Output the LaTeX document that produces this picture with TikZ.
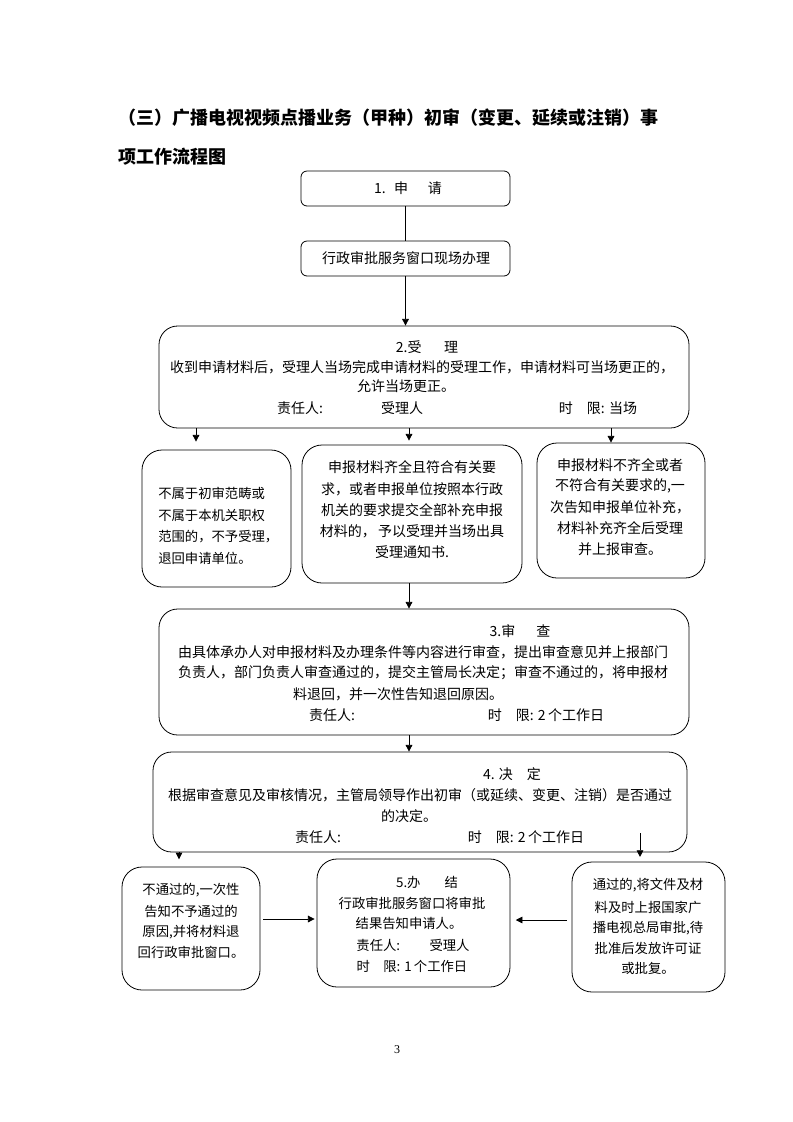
\documentclass[tikz,border=0pt]{standalone}
\usepackage{fontspec}
\setmainfont{Noto Sans CJK SC}
\newfontfamily\serifnum{Liberation Serif}
\usetikzlibrary{arrows.meta,fit}
\begin{document}
\begin{tikzpicture}[x=0.75pt,y=-0.75pt,
  box/.style={draw, line width=0.6pt, inner sep=0pt, rounded corners=#1},
  box/.default=14pt,
  tx/.style={inner sep=0pt, font=\fontsize{10.5pt}{12pt}\selectfont},
  ts/.style={inner sep=0pt, font=\fontsize{10pt}{12pt}\selectfont},
  tsl/.style={inner sep=0pt, anchor=west, font=\fontsize{10pt}{12pt}\selectfont},
  tl/.style={inner sep=0pt, anchor=west, font=\fontsize{13.5pt}{16pt}\selectfont\bfseries},
  ln/.style={line width=0.6pt},
  arr/.style={line width=0.6pt, -{Triangle[length=5pt,width=5pt]}}
]
\fill[white] (0,0) rectangle (793,1122);
\useasboundingbox (0,0) rectangle (793,1122);

% title
\node[tl] (title1) at (118,118) {（三）广播电视视频点播业务（甲种）初审（变更、延续或注销）事};
\node[tl] (title2) at (118,157) {项工作流程图};

% boxes
\node[box=4.5pt, fit={(301,171)(510,206)}] (b1) {};
\node[box=4.5pt, fit={(301,241)(510,276)}] (b2) {};
\node[box=14pt, fit={(159,326)(689,428)}] (b3) {};
\node[box=15pt, fit={(142,450)(291,587)}] (m1) {};
\node[box=15pt, fit={(302,445)(522,583)}] (m2) {};
\node[box=15pt, fit={(537,443)(705,578)}] (m3) {};
\node[box=14pt, fit={(159,609)(689,735)}] (b4) {};
\node[box=14pt, fit={(153,752)(687,852)}] (b5) {};
\node[box=15pt, fit={(122,867)(260,990)}] (l6) {};
\node[box=15pt, fit={(317,859)(510,987)}] (c6) {};
\node[box=15pt, fit={(572,862)(725,992)}] (r6) {};

% texts
\node[tx] (t1) at (408,188) {1.\hspace{0.6em}申\hspace{1.4em}请};
\node[tx] (t2) at (406,258) {行政审批服务窗口现场办理};

\node[tx] (t3a) at (427,347) {2.受\hspace{1.6em}理};
\node[tx] (t3b) at (422,367) {收到申请材料后，受理人当场完成申请材料的受理工作，申请材料可当场更正的，};
\node[tx] (t3c) at (406,386) {允许当场更正。};
\node[tx] (t3d) at (300,408) {责任人:};
\node[tx] (t3e) at (402,408) {受理人};
\node[tx] (t3f) at (598,408) {时\hspace{1em}限: 当场};

\node[tsl] (m1a) at (158,493) {不属于初审范畴或};
\node[tsl] (m1b) at (158,515) {不属于本机关职权};
\node[tsl] (m1c) at (158,537) {范围的，不予受理，};
\node[tsl] (m1d) at (158,558) {退回申请单位。};

\node[tx] (m2a) at (412,467) {申报材料齐全且符合有关要};
\node[tx] (m2b) at (412,489) {求，或者申报单位按照本行政};
\node[tx] (m2c) at (412,510) {机关的要求提交全部补充申报};
\node[tx] (m2d) at (412,531) {材料的，\,予以受理并当场出具};
\node[tx] (m2e) at (412,552) {受理通知书.};

\node[tx] (m3a) at (620,465) {申报材料不齐全或者};
\node[tx] (m3b) at (620,486) {不符合有关要求的,一};
\node[tx] (m3c) at (620,507) {次告知申报单位补充，};
\node[tx] (m3d) at (620,528) {材料补充齐全后受理};
\node[tx] (m3e) at (620,549) {并上报审查。};

\node[tx] (t4a) at (520,631) {3.审\hspace{1.5em}查};
\node[tx] (t4b) at (423,652) {由具体承办人对申报材料及办理条件等内容进行审查，提出审查意见并上报部门};
\node[tx] (t4c) at (423,673) {负责人，部门负责人审查通过的，提交主管局长决定；审查不通过的，将申报材};
\node[tx] (t4d) at (398,694) {料退回，并一次性告知退回原因。};
\node[tx] (t4e) at (332,715) {责任人:};
\node[tx] (t4f) at (546,715) {时\hspace{1em}限: 2\,个工作日};

\node[tx] (t5a) at (512,774) {4.\hspace{0.3em}决\hspace{1em}定};
\node[tx] (t5b) at (420,795) {根据审查意见及审核情况，主管局领导作出初审（或延续、变更、注销）是否通过};
\node[tx] (t5c) at (409,816) {的决定。};
\node[tx] (t5d) at (318,837) {责任人:};
\node[tx] (t5e) at (526,837) {时\hspace{1em}限: 2\,个工作日};

\node[ts] (l6a) at (191,890) {不通过的,一次性};
\node[ts] (l6b) at (191,911) {告知不予通过的};
\node[ts] (l6c) at (191,932) {原因,并将材料退};
\node[ts] (l6d) at (191,952) {回行政审批窗口。};

\node[ts] (c6a) at (427,882) {5.办\hspace{1.8em}结};
\node[ts] (c6b) at (412,903) {行政审批服务窗口将审批};
\node[ts] (c6c) at (409,923) {结果告知申请人。};
\node[ts] (c6d) at (413,945) {责任人:\hspace{2.2em}受理人};
\node[ts] (c6e) at (412,966) {时\hspace{1em}限: 1\,个工作日};

\node[ts] (r6a) at (648,885) {通过的,将文件及材};
\node[ts] (r6b) at (648,907) {料及时上报国家广};
\node[ts] (r6c) at (648,928) {播电视总局审批,待};
\node[ts] (r6d) at (648,948) {批准后发放许可证};
\node[ts] (r6e) at (648,968) {或批复。};

\node[font=\serifnum\fontsize{9pt}{10pt}\selectfont, inner sep=0pt] (pg) at (397,1050) {3};

% connectors
\draw[ln] (b1) -- (b2);
\draw[arr] (b2.south) -- (b2.south |- b3.north);
\draw[arr, shorten >=6pt] (196,0 |- b3.south) -- (196,0 |- m1.north);
\draw[arr, shorten >=3pt] (409,0 |- b3.south) -- (409,0 |- m2.north);
\draw[arr] (611,0 |- b3.south) -- (611,0 |- m3.north);
\draw[arr] (409,0 |- m2.south) -- (409,0 |- b4.north);
\draw[arr] (409,0 |- b4.south) -- (409,0 |- b5.north);
\draw[arr, shorten >=5.5pt] (179,0 |- b5.south) -- (179,0 |- l6.north);
\coordinate (rs) at (640,833);
\draw[arr, shorten >=3.5pt] (rs) -- (rs |- r6.north);
\draw[arr, shorten <=2pt, shorten >=1.5pt] (l6.east |- 0,919) -- (c6.west |- 0,919);
\draw[arr, shorten <=3.5pt, shorten >=4pt] (r6.west |- 0,920) -- (c6.east |- 0,920);
\end{tikzpicture}
\end{document}
